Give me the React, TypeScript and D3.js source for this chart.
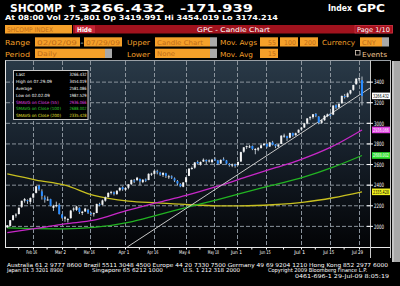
import React from "react";
import * as d3 from "d3";

// ---- Data ----
const opens = [
  1990, 2005, 2062, 2110, 2120, 2190, 2250, 2255, 2238, 2280, 2325, 2395, 2340, 2280, 2255, 2265, 2180, 2205, 2210, 2115,
  2075, 2070, 2080, 2165, 2160, 2180, 2130, 2145, 2160, 2130, 2125, 2130, 2215, 2210, 2250, 2285, 2330, 2330, 2315, 2350, 2380, 2355,
  2375, 2410, 2445, 2450, 2460, 2430, 2455, 2450, 2505, 2510, 2535, 2520, 2500, 2515, 2485, 2485, 2465, 2440, 2410, 2385, 2430,
  2490, 2565, 2570, 2625, 2600, 2630, 2645, 2630, 2625, 2650, 2640, 2610, 2650, 2640, 2605, 2590, 2600, 2595,
  2630, 2725, 2770, 2775, 2780, 2750, 2745, 2760, 2790, 2800, 2775, 2815, 2795, 2775, 2800, 2880, 2875, 2860, 2905, 2885, 2910, 2940,
  2960, 3000, 3050, 3060, 3090, 3065, 3005, 3030, 3070, 3085, 3085, 3175, 3155, 3195, 3265, 3255, 3290, 3325, 3380, 3435, 3420,
];
const highs = [
  2012, 2061, 2110, 2128, 2182, 2250, 2275, 2262, 2281, 2320, 2390, 2402, 2360, 2300, 2290, 2268, 2210, 2240, 2225, 2120,
  2100, 2080, 2160, 2185, 2200, 2185, 2150, 2180, 2170, 2140, 2135, 2220, 2230, 2260, 2290, 2330, 2345, 2340, 2350, 2380, 2390, 2380,
  2410, 2455, 2460, 2480, 2465, 2460, 2465, 2515, 2520, 2545, 2550, 2530, 2525, 2520, 2500, 2495, 2475, 2450, 2420, 2430, 2480,
  2565, 2580, 2625, 2640, 2630, 2660, 2650, 2650, 2655, 2670, 2645, 2650, 2670, 2645, 2615, 2610, 2610, 2630,
  2725, 2770, 2785, 2790, 2785, 2760, 2770, 2795, 2810, 2805, 2820, 2830, 2800, 2800, 2885, 2900, 2880, 2910, 2910, 2910, 2940, 2965,
  3005, 3050, 3070, 3090, 3100, 3070, 3040, 3080, 3095, 3100, 3175, 3185, 3195, 3270, 3285, 3300, 3325, 3375, 3435, 3445, 3454,
];
const lows = [
  1987.5, 1999, 2055, 2085, 2115, 2180, 2230, 2218, 2214, 2270, 2320, 2345, 2260, 2230, 2250, 2195, 2150, 2185, 2115, 2075,
  2045, 2037, 2075, 2145, 2150, 2120, 2110, 2140, 2120, 2100, 2095, 2128, 2195, 2205, 2240, 2280, 2310, 2300, 2305, 2340, 2345, 2340,
  2360, 2400, 2420, 2440, 2400, 2420, 2430, 2448, 2490, 2500, 2505, 2490, 2480, 2470, 2460, 2460, 2430, 2400, 2380, 2380, 2425,
  2488, 2550, 2560, 2600, 2590, 2625, 2600, 2620, 2610, 2635, 2595, 2605, 2640, 2600, 2580, 2575, 2570, 2590,
  2625, 2715, 2750, 2760, 2740, 2700, 2730, 2755, 2780, 2760, 2770, 2785, 2760, 2765, 2798, 2860, 2830, 2855, 2870, 2880, 2905, 2930,
  2955, 2990, 3030, 3045, 3060, 2990, 2995, 3025, 3060, 3065, 3080, 3140, 3150, 3190, 3240, 3250, 3280, 3315, 3375, 3410, 3174,
];
const closes = [
  2011, 2060, 2107, 2115, 2181, 2248, 2265, 2246, 2275, 2318, 2389, 2359, 2295, 2260, 2261, 2200, 2200, 2206, 2120, 2083,
  2088, 2071, 2153, 2173, 2193, 2139, 2142, 2173, 2133, 2128, 2128, 2218, 2208, 2252, 2281, 2325, 2335, 2316, 2346, 2374, 2360, 2373,
  2408, 2450, 2444, 2472, 2437, 2452, 2444, 2510, 2512, 2540, 2527, 2503, 2519, 2490, 2486, 2474, 2445, 2416, 2389, 2426, 2477,
  2560, 2567, 2620, 2611, 2625, 2647, 2632, 2640, 2647, 2645, 2608, 2645, 2646, 2609, 2598, 2602, 2588, 2625,
  2721, 2767, 2779, 2776, 2752, 2751, 2759, 2787, 2802, 2774, 2815, 2794, 2779, 2793, 2880, 2881, 2857, 2906, 2881, 2904, 2938, 2959,
  3000, 3048, 3060, 3088, 3074, 3006, 3029, 3073, 3087, 3080, 3173, 3153, 3189, 3266, 3260, 3290, 3321, 3372, 3434, 3438, 3266.432,
];

const xTickIdx = [10, 20, 30, 42, 52, 63, 73, 81, 91, 103, 113, 123];
const xTickLabels = ["Feb 16", "Mar 2", "Mar 16", "Apr 1", "Apr 16", "May 4", "May 18", "Jun 1", "Jun 15", "Jul 1", "Jul 15", "Jul 29"];
const yTicks = [2000, 2200, 2400, 2600, 2800, 3000, 3200, 3400];

const ma55Idx = [0, 10, 20, 30, 41, 52, 62, 73, 84, 93, 101, 112, 123];
const ma55Val = [1940, 1980, 2025, 2060, 2150, 2230, 2300, 2390, 2490, 2570, 2641, 2766, 2936.066];
const ma100Idx = [0, 10, 20, 30, 42, 52, 63, 73, 81, 92, 103, 113, 123];
const ma100Val = [1985, 1978, 1976, 1990, 2040, 2110, 2190, 2260, 2320, 2400, 2480, 2575, 2688.002];
const ma200Idx = [0, 10, 20, 30, 42, 52, 63, 73, 81, 92, 103, 113, 123];
const ma200Val = [2509, 2450, 2400, 2300, 2245, 2228, 2210, 2200, 2200, 2210, 2235, 2278, 2335.428];

const trendIdx = [41.6, 125.8];
const trendVal = [1800, 3343];

const legendLabels = ["Last", "High on 07.29.09", "Average", "Low on 02.02.09", "SMAVG on Close (55)", "SMAVG on Close (100)", "SMAVG on Close (200)"];
const legendValues = ["3266.432", "3454.019", "2581.086", "1987.529", "2936.066", "2688.002", "2335.428"];
const legendColors = ["#ffffff", "#ffffff", "#ffffff", "#ffffff", "#e040e0", "#30d030", "#e8e030"];

const ORANGE = "#f5a02a";
const BOXTXT = "#c06c18";
const SANS = "'DejaVu Sans', sans-serif";

function Txt(props: any) {
  const { x, y, len, size = 7, fill = "#fff", weight = "bold", children, anchor = "start", family = SANS } = props;
  return (
    <text x={x} y={y} fontSize={size} fill={fill} fontWeight={weight} fontFamily={family} textAnchor={anchor}
      textLength={len} lengthAdjust={len ? "spacingAndGlyphs" : undefined}>
      {children}
    </text>
  );
}

function Box(props: any) {
  const { x, w, y, h, text, tx, tlen, drop } = props;
  return (
    <g>
      <rect x={x} y={y} width={w} height={h} fill={ORANGE} />
      {drop ? <rect x={x + w} y={y} width={7} height={h} fill="#a9a9a9" /> : null}
      <Txt x={tx} y={y + h - 2} len={tlen} size={6.5} fill={BOXTXT} weight="normal">{text}</Txt>
    </g>
  );
}

export default function App() {
  const L = 6, R = 370, TOP = 61, B = 247;
  const x = d3.scaleLinear().domain([0, closes.length - 1]).range([7.3, 362]);
  const y = d3.scaleLinear().domain([1800, 3605]).range([B, TOP]);
  const line = d3.line<[number, number]>().x((d) => x(d[0])).y((d) => y(d[1])).curve(d3.curveMonotoneX);
  const straight = d3.line<[number, number]>().x((d) => x(d[0])).y((d) => y(d[1]));
  const pairs = (a: number[], b: number[]) => a.map((v, i) => [v, b[i]] as [number, number]);
  const gridX = xTickIdx.map((i) => x(i - 1.2));
  const minorX = gridX.map((g, i) => (i === 0 ? g - 14 : (g + gridX[i - 1]) / 2));

  const badges = [
    { v: 3266.432, bg: "#ffffff", fg: "#000", t: "3266.432" },
    { v: 2936.066, bg: "#e040e0", fg: "#fff", t: "2936.066" },
    { v: 2688.002, bg: "#30e030", fg: "#fff", t: "2688.002" },
    { v: 2335.428, bg: "#f0f020", fg: "#000", t: "2335.428" },
  ];

  return (
    <div style={{ position: "fixed", left: 0, top: 0, width: 400, height: 286, background: "#000" }}>
      <svg width={400} height={286} style={{ display: "block" }}>
        <defs>
          <linearGradient id="bg" x1="0" y1="0" x2="0" y2="1">
            <stop offset="0%" stopColor="#293947" />
            <stop offset="45%" stopColor="#17212c" />
            <stop offset="100%" stopColor="#030406" />
          </linearGradient>
          <clipPath id="plot">
            <rect x={L} y={TOP} width={R - L} height={B - TOP} />
          </clipPath>
        </defs>
        <rect x={0} y={0} width={400} height={286} fill="#000" />

        {/* header row 1 */}
        <Txt x={10} y={11.5} len={52} size={10}>SHCOMP</Txt>
        <Txt x={65} y={11.5} len={100} size={10}>↑3266.432</Txt>
        <Txt x={180} y={11.5} len={73} size={10}>-171.939</Txt>
        <Txt x={328} y={11} len={24} size={8.5}>Index</Txt>
        <Txt x={357} y={11.5} len={28} size={10}>GPC</Txt>
        {/* header row 2 */}
        <Txt x={5} y={19.5} len={273} size={7}>At 08:00 Vol 275,801 Op 3419.991 Hi 3454.019 Lo 3174.214</Txt>

        {/* row 3 */}
        <rect x={5} y={25} width={67} height={8.5} fill={ORANGE} />
        <Txt x={7} y={31.8} len={46} size={6.5} fill={BOXTXT} weight="normal">SHCOMP INDEX</Txt>
        <rect x={73} y={25} width={320} height={8.5} fill="#a0121d" />
        <rect x={75} y={25.5} width={20} height={7.5} fill="#c42436" />
        <Txt x={77} y={31.6} len={15} size={6.5}>Hide</Txt>
        <Txt x={197} y={31.8} len={73} size={6.5} weight="normal">GPC - Candle Chart</Txt>
        <rect x={355} y={25.5} width={37.5} height={7.5} fill="#a8101c" stroke="#d04050" strokeWidth={0.6} />
        <Txt x={357} y={31.6} len={33} size={6.5} weight="normal">Page 1/10</Txt>

        {/* row 4 */}
        <Txt x={5} y={45} len={25} size={7} fill={ORANGE} weight="normal">Range</Txt>
        <Box x={35} w={45} y={37.3} h={9.2} text="02/02/09" tx={37} tlen={40} />
        <Txt x={80.5} y={44.5} len={3} size={7} weight="normal">-</Txt>
        <Box x={84} w={38} y={37.3} h={9.2} text="07/29/09" tx={86} tlen={34} />
        <Txt x={127} y={45} len={23} size={7} fill={ORANGE} weight="normal">Upper</Txt>
        <Box x={155} w={55} y={37.3} h={9.2} text="Candle Chart" tx={157} tlen={46} drop />
        <Txt x={220} y={45} len={37} size={7} fill={ORANGE} weight="normal">Mov. Avgs</Txt>
        <Box x={260} w={18} y={37.3} h={9.2} text="55" tx={268} tlen={8} />
        <Box x={280} w={18} y={37.3} h={9.2} text="100" tx={284} tlen={12} />
        <Box x={300} w={18} y={37.3} h={9.2} text="200" tx={304} tlen={12} />
        <Txt x={322} y={45} len={33} size={7} fill={ORANGE} weight="normal">Currency</Txt>
        <Box x={360} w={22} y={37.3} h={9.2} text="CNY" tx={362} tlen={14} drop />

        {/* row 5 */}
        <Txt x={5} y={56.5} len={25} size={7} fill={ORANGE} weight="normal">Period</Txt>
        <Box x={35} w={70} y={48.7} h={9.3} text="Daily" tx={37} tlen={20} drop />
        <Txt x={127} y={56.5} len={23} size={7} fill={ORANGE} weight="normal">Lower</Txt>
        <Box x={155} w={55} y={48.7} h={9.3} text="None" tx={157} tlen={18} drop />
        <Txt x={220} y={56.5} len={33} size={7} fill={ORANGE} weight="normal">Mov. Avg</Txt>
        <Box x={260} w={18} y={48.7} h={9.3} text="15" tx={268} tlen={8} />
        <rect x={355.5} y={50.5} width={4.5} height={4.5} fill="#000" stroke="#e0d0c0" strokeWidth={0.8} />
        <Txt x={362} y={56.5} len={25} size={7} fill="#f3c690" weight="normal">Events</Txt>

        {/* plot background */}
        <rect x={L} y={TOP} width={R - L} height={B - TOP} fill="url(#bg)" />

        {/* grid */}
        {yTicks.map((t) => (
          <line key={"gy" + t} x1={L} x2={R} y1={y(t)} y2={y(t)} stroke="#8a939c" strokeWidth={1} strokeDasharray="4,2" />
        ))}
        {gridX.map((gx, i) => (
          <line key={"gx" + i} x1={Math.round(gx) + 0.5} x2={Math.round(gx) + 0.5} y1={TOP} y2={B} stroke="#8a939c" strokeWidth={1} strokeDasharray="4,2" />
        ))}

        <g clipPath="url(#plot)">
          {/* moving averages */}
          <path d={line(pairs(ma200Idx, ma200Val)) || ""} fill="none" stroke="#c8c020" strokeWidth={1.3} />
          <path d={line(pairs(ma100Idx, ma100Val)) || ""} fill="none" stroke="#22b422" strokeWidth={1.3} />
          <path d={line(pairs(ma55Idx, ma55Val)) || ""} fill="none" stroke="#c828c8" strokeWidth={1.3} />
          {/* trend line */}
          <path d={straight(pairs(trendIdx, trendVal)) || ""} fill="none" stroke="#c8c8c8" strokeWidth={1} />
          {/* candles */}
          {closes.map((c, i) => {
            const o = opens[i];
            const up = c >= o;
            const cx = x(i);
            const yt = y(Math.max(o, c));
            const yb = y(Math.min(o, c));
            return (
              <g key={"c" + i}>
                <line x1={cx} x2={cx} y1={y(highs[i])} y2={y(lows[i])} stroke="#b8c0c8" strokeWidth={1} />
                <rect x={cx - 1} y={yt} width={2} height={Math.max(1, yb - yt)} fill={up ? "#f4f4f4" : "#2a8cff"} />
              </g>
            );
          })}
        </g>

        {/* frame */}
        <line x1={5} x2={391} y1={60.5} y2={60.5} stroke="#9aa0a6" strokeWidth={1} />
        <line x1={5.5} x2={5.5} y1={60.5} y2={B} stroke="#e8e8e8" strokeWidth={1} />
        <line x1={5} x2={391} y1={B + 0.5} y2={B + 0.5} stroke="#e8e8e8" strokeWidth={1} />
        <line x1={R + 0.5} x2={R + 0.5} y1={60.5} y2={258} stroke="#c8c8c8" strokeWidth={1} />
        <line x1={390.5} x2={390.5} y1={60.5} y2={258} stroke="#c8c8c8" strokeWidth={1} />
        <rect x={392} y={61} width={8} height={201} fill="#a9a9a9" />
        <line x1={393} x2={393} y1={61} y2={262} stroke="#e0e0e0" strokeWidth={1} />

        {/* y axis */}
        {yTicks.map((t) => (
          <g key={"yl" + t}>
            <line x1={367} x2={373} y1={y(t)} y2={y(t)} stroke="#ffffff" strokeWidth={1} />
            <Txt x={374} y={y(t) + 2.2} len={10} size={6} weight="normal">{String(t)}</Txt>
          </g>
        ))}
        {badges.map((b) => (
          <g key={"b" + b.t}>
            <rect x={372} y={y(b.v) - 3.3} width={18} height={6.6} fill={b.bg} />
            <Txt x={373} y={y(b.v) + 2} len={16} size={5.5} fill={b.fg} weight="normal">{b.t}</Txt>
          </g>
        ))}

        {/* x axis */}
        {minorX.map((mx, i) => (
          <line key={"mx" + i} x1={mx} x2={mx} y1={B + 1} y2={B + 2.5} stroke="#ffffff" strokeWidth={1} />
        ))}
        {gridX.map((gx, i) => (
          <g key={"xl" + i}>
            <line x1={Math.round(gx) + 0.5} x2={Math.round(gx) + 0.5} y1={B + 1} y2={B + 2.5} stroke="#ffffff" strokeWidth={1} />
            <Txt x={gx - 1} y={254} len={11} size={5} anchor="middle" weight="normal">{xTickLabels[i]}</Txt>
          </g>
        ))}

        {/* legend */}
        <rect x={13.5} y={70.5} width={74.5} height={49} fill="#000" stroke="#c8c8c8" strokeWidth={1} />
        {legendLabels.map((lab, i) => (
          <g key={"lg" + i}>
            <Txt x={16} y={76.3 + i * 6.8} size={4.3} fill={legendColors[i]} weight="normal"
              len={lab.length * 2.25}>{lab}</Txt>
            <Txt x={86.5} y={76.3 + i * 6.8} size={4.3} fill={legendColors[i]} weight="normal" anchor="end" len={17}>{legendValues[i]}</Txt>
          </g>
        ))}

        {/* footer */}
        <Txt x={7} y={266.5} len={381} size={5.5} weight="normal">Australia 61 2 9777 8600 Brazil 5511 3048 4500 Europe 44 20 7330 7500 Germany 49 69 9204 1210 Hong Kong 852 2977 6000</Txt>
        <Txt x={7} y={272} len={56} size={5.5} weight="normal">Japan 81 3 3201 8900</Txt>
        <Txt x={92} y={272} len={71} size={5.5} weight="normal">Singapore 65 6212 1000</Txt>
        <Txt x={183} y={272} len={57} size={5.5} weight="normal">U.S. 1 212 318 2000</Txt>
        <Txt x={268} y={272} len={99} size={5.5} weight="normal">Copyright 2009 Bloomberg Finance L.P.</Txt>
        <Txt x={295} y={277.5} len={94} size={5.5} weight="normal">0461-696-1 29-Jul-09 8:05:19</Txt>
      </svg>
    </div>
  );
}
